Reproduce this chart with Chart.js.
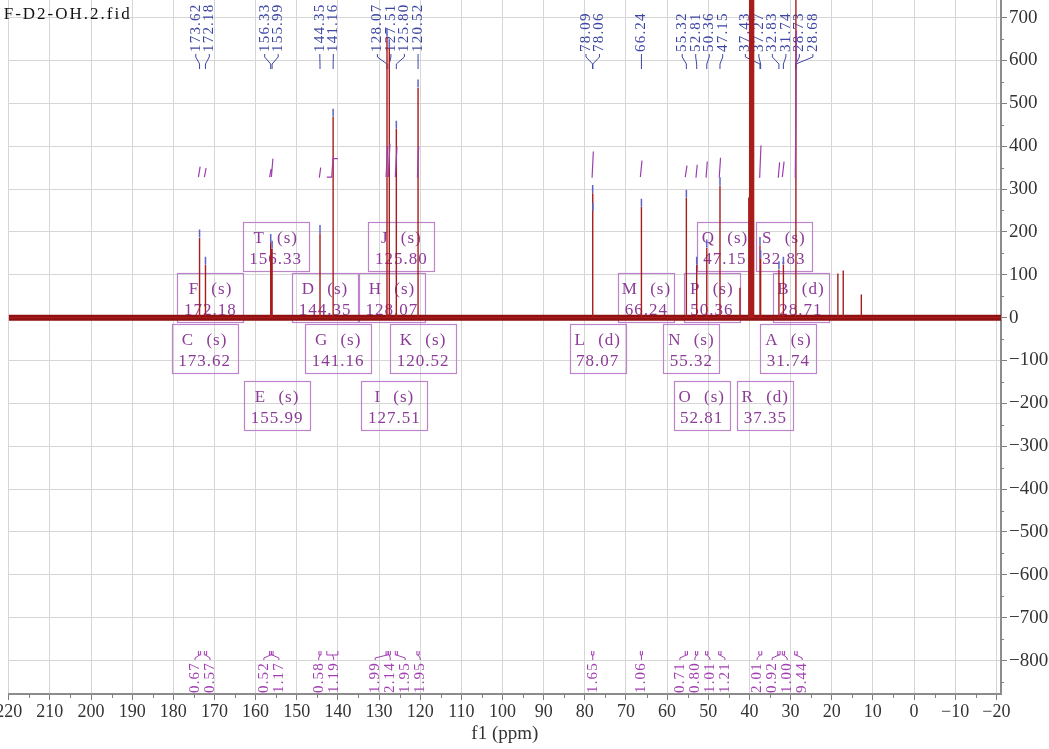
<!DOCTYPE html>
<html>
<head>
<meta charset="utf-8">
<script src="https://cdn.jsdelivr.net/npm/chart.js@4.4.1/dist/chart.umd.min.js"></script>
<style>
  html, body { margin: 0; padding: 0; background: #fff; overflow: hidden; }
  #wrap { position: absolute; left: -30px; top: -20px; }
</style>
</head>
<body>
<div id="wrap"><canvas id="spectrum" width="1079" height="769"></canvas></div>
<script>
const fileName = 'F-D2-OH.2.fid';

// picked lines (ppm) and their intensities
const peakPpm = [173.62, 172.18, 156.33, 155.99, 144.35, 141.16, 128.07, 127.51, 125.80, 120.52,
  78.09, 78.06, 66.24, 55.32, 52.81, 50.36, 47.15, 37.43, 37.27, 32.83, 31.74, 28.73, 28.68];
const peakHeight = [186, 123, 176, 160, 197, 468, 655, 630, 440, 536,
  290, 248, 258, 279, 123, 163, 308, 169, 138, 112, 123, 900, 860];

// lines that were not picked: DMSO-d6 septet and a few weak signals
const otherPpm = [42.30, 40.15, 39.94, 39.73, 39.52, 39.31, 39.10, 38.89, 18.50, 17.20, 12.80];
const otherHeight = [70, 280, 1000, 2000, 2300, 2000, 1000, 280, 103, 110, 54];

// multiplet report
const multName = ['A', 'B', 'C', 'D', 'E', 'F', 'G', 'H', 'I', 'J', 'K', 'L', 'M', 'N', 'O', 'P', 'Q', 'R', 'S', 'T'];
const multKind = ['s', 'd', 's', 's', 's', 's', 's', 's', 's', 's', 's', 'd', 's', 's', 's', 's', 's', 'd', 's', 's'];
const multShift = [31.74, 28.71, 173.62, 144.35, 155.99, 172.18, 141.16, 128.07, 127.51, 125.80,
  120.52, 78.07, 66.24, 55.32, 52.81, 50.36, 47.15, 37.35, 32.83, 156.33];

// integration regions (ppm) and normalised areas
const intFrom = [173.90, 172.45, 156.60, 156.16, 144.60, 142.70, 128.30, 127.75, 126.05, 120.80,
  78.35, 66.50, 55.60, 53.10, 50.65, 47.45, 37.70, 33.10, 32.00, 29.00];
const intTo = [173.35, 171.90, 156.16, 155.75, 144.10, 140.00, 127.80, 127.25, 125.55, 120.25,
  77.80, 66.00, 55.05, 52.55, 50.10, 46.90, 37.00, 32.55, 31.45, 28.40];
const intValue = [0.67, 0.57, 0.52, 1.17, 0.58, 1.19, 1.99, 2.14, 1.95, 1.95,
  1.65, 1.06, 0.71, 0.80, 1.01, 1.21, 2.01, 0.92, 1.00, 9.44];

const xTicks = [220, 210, 200, 190, 180, 170, 160, 150, 140, 130, 120, 110, 100, 90, 80, 70, 60, 50, 40, 30, 20, 10, 0, -10, -20];
const yTicks = [-800, -700, -600, -500, -400, -300, -200, -100, 0, 100, 200, 300, 400, 500, 600, 700];

// layout of the annotation boxes and integral marks
const X_MIN = -21.14, X_MAX = 220;
const Y_MIN = -878, Y_MAX = 741;
const boxRow = [1, 0, 1, 0, 2, 0, 1, 0, 2, -1, 1, 1, 0, 1, 2, 0, -1, 2, -1, -1];
const ROW_TOP = [-95.5, -44.5, 6.5, 63.5];
const BOX_H = 49;
const INT_CURVE_BASE = 328;
const INT_CURVE_SCALE = 36;
const INT_MARK_LEVEL = -787;

const SERIF = '"Liberation Serif", "Times New Roman", serif';
const fmt = v => (v < 0 ? '\u2212' + Math.abs(v) : String(v));

// spectrum trace: every line rises from the baseline and drops back to it
const lines = peakPpm.map((p, i) => ({ p, h: peakHeight[i] }))
  .concat(otherPpm.map((p, i) => ({ p, h: otherHeight[i] })))
  .sort((a, b) => b.p - a.p);
const traceData = [{ x: X_MAX, y: 0 }];
lines.forEach(l => traceData.push({ x: l.p, y: 0 }, { x: l.p, y: l.h }, { x: l.p, y: 0 }));
traceData.push({ x: X_MIN, y: 0 });

const tipData = peakPpm.map((p, i) => ({ x: p, y: peakHeight[i] + 10 }));

// integral curves, broken between regions
const integralData = [];
intFrom.forEach((from, i) => {
  const mid = (from + intTo[i]) / 2;
  const top = INT_CURVE_BASE + intValue[i] * INT_CURVE_SCALE;
  integralData.push(
    { x: from, y: INT_CURVE_BASE },
    { x: mid + 0.15, y: INT_CURVE_BASE },
    { x: mid - 0.15, y: top },
    { x: intTo[i], y: top },
    { x: intTo[i] - 0.01, y: null }
  );
});

// pushes overlapping labels apart, keeping each group centred on its lines
function spreadLabels(xs, gap) {
  const groups = [];
  xs.forEach((x, i) => {
    let g = { sum: x, n: 1, first: i, start: x };
    while (groups.length) {
      const prev = groups[groups.length - 1];
      if (prev.start + prev.n * gap <= g.start) break;
      groups.pop();
      const n = prev.n + g.n, sum = prev.sum + g.sum;
      g = { sum, n, first: prev.first, start: sum / n - (n - 1) * gap / 2 };
    }
    groups.push(g);
  });
  const out = [];
  groups.forEach(g => { for (let k = 0; k < g.n; k++) out[g.first + k] = g.start + k * gap; });
  return out;
}

const spectrumDecor = {
  id: 'spectrumDecor',
  beforeDatasetsDraw(chart) {
    const { ctx, chartArea } = chart;
    const xs = chart.scales.x, ys = chart.scales.y;
    const zero = ys.getPixelForValue(0);
    const top = chartArea.top;
    ctx.save();

    // multiplet boxes
    ctx.font = '17px ' + SERIF;
    ctx.letterSpacing = '1px';
    ctx.textAlign = 'center';
    ctx.textBaseline = 'middle';
    ctx.lineWidth = 1.2;
    multName.forEach((name, i) => {
      const shift = multShift[i].toFixed(2);
      const w = Math.round(ctx.measureText(shift).width + 13);
      const cx = xs.getPixelForValue(multShift[i]) + 5;
      const by = Math.round(zero + ROW_TOP[boxRow[i] + 1]) + 0.5;
      ctx.strokeStyle = '#bd84cb';
      ctx.strokeRect(Math.round(cx - w / 2) + 0.5, by, w, BOX_H);
      ctx.fillStyle = '#8c3c98';
      ctx.wordSpacing = '7px';
      ctx.fillText(name + ' (' + multKind[i] + ')', cx, by + 16);
      ctx.wordSpacing = '0px';
      ctx.fillText(shift, cx, by + 37);
    });

    // peak labels along the top
    const px = peakPpm.map(p => xs.getPixelForValue(p));
    const lx = spreadLabels(px, 13.5);
    ctx.font = '15px ' + SERIF;
    ctx.letterSpacing = '1.2px';
    ctx.strokeStyle = '#3d46a3';
    ctx.fillStyle = '#3d46a3';
    ctx.lineWidth = 1;
    ctx.textAlign = 'left';
    peakPpm.forEach((p, i) => {
      ctx.beginPath();
      ctx.moveTo(lx[i], top + 54);
      ctx.lineTo(lx[i], top + 57);
      ctx.lineTo(px[i], top + 64);
      ctx.lineTo(px[i], top + 69);
      ctx.stroke();
      ctx.save();
      ctx.translate(lx[i], top + 52);
      ctx.rotate(-Math.PI / 2);
      ctx.fillText(p.toFixed(2), 0, 0);
      ctx.restore();
    });

    // integral marks and values below the trace
    const yb = ys.getPixelForValue(INT_MARK_LEVEL);
    const cxs = intFrom.map((f, i) => xs.getPixelForValue((f + intTo[i]) / 2));
    const ilx = spreadLabels(cxs, 15);
    ctx.font = '15px ' + SERIF;
    ctx.letterSpacing = '1.2px';
    ctx.strokeStyle = '#a23fb2';
    ctx.fillStyle = '#a23fb2';
    ctx.textAlign = 'right';
    intFrom.forEach((f, i) => {
      const x1 = xs.getPixelForValue(f), x2 = xs.getPixelForValue(intTo[i]);
      ctx.beginPath();
      ctx.moveTo(x1, yb - 4); ctx.lineTo(x1, yb);
      ctx.lineTo(x2, yb); ctx.lineTo(x2, yb - 4);
      ctx.moveTo(cxs[i], yb);
      ctx.lineTo(ilx[i], yb + 3);
      ctx.lineTo(ilx[i], yb + 5);
      ctx.stroke();
      ctx.save();
      ctx.translate(ilx[i], yb + 7);
      ctx.rotate(-Math.PI / 2);
      ctx.fillText(intValue[i].toFixed(2), 0, 0);
      ctx.restore();
    });
    ctx.restore();
  },
  afterDraw(chart) {
    const { ctx, chartArea } = chart;
    const xs = chart.scales.x, ys = chart.scales.y;
    ctx.save();
    // minor ticks every 5 ppm and every 50 units
    ctx.strokeStyle = '#7f7f7f';
    ctx.lineWidth = 1;
    ctx.beginPath();
    for (let v = -15; v < X_MAX; v += 10) {
      const x = Math.round(xs.getPixelForValue(v)) + 0.5;
      ctx.moveTo(x, chartArea.bottom); ctx.lineTo(x, chartArea.bottom + 4);
    }
    for (let v = -850; v < Y_MAX; v += 100) {
      const y = Math.round(ys.getPixelForValue(v)) + 0.5;
      ctx.moveTo(chartArea.right, y); ctx.lineTo(chartArea.right + 3, y);
    }
    ctx.stroke();
    // data file name
    ctx.font = '17px ' + SERIF;
    ctx.letterSpacing = '2px';
    ctx.fillStyle = '#111';
    ctx.textAlign = 'left';
    ctx.textBaseline = 'middle';
    ctx.fillText(fileName, chartArea.left - 5, chartArea.top + 15);
    ctx.restore();
  }
};

new Chart(document.getElementById('spectrum'), {
  type: 'line',
  data: {
    datasets: [
      { label: 'baseline', data: [{ x: X_MAX, y: 0 }, { x: X_MIN, y: 0 }], borderColor: '#8e1010', borderWidth: 6, pointRadius: 0, order: 4 },
      { label: 'trace', data: traceData, borderColor: '#a81c1c', borderWidth: 1.4, pointRadius: 0, order: 3 },
      { label: 'integrals', data: integralData, borderColor: '#9b3fb0', borderWidth: 1.2, pointRadius: 0, order: 2 },
      { type: 'scatter', label: 'picks', data: tipData, showLine: false, pointStyle: 'line', rotation: 90,
        pointRadius: 4, borderColor: '#5b63c6', borderWidth: 1.5, order: 1 }
    ]
  },
  options: {
    responsive: false,
    animation: false,
    events: [],
    layout: { padding: { left: 38.7, top: 20, right: 0, bottom: 0 } },
    plugins: { legend: { display: false }, tooltip: { enabled: false } },
    scales: {
      x: {
        type: 'linear', reverse: true, min: X_MIN, max: X_MAX,
        afterBuildTicks: s => { s.ticks = xTicks.map(v => ({ value: v })); },
        afterFit: s => { s.height = 55; },
        grid: { color: '#d6d6d6', lineWidth: 1, tickColor: '#7f7f7f', tickLength: 6 },
        border: { color: '#8c8c8c', width: 2 },
        ticks: { color: '#333', font: { family: SERIF, size: 18 }, padding: 1, maxRotation: 0, autoSkip: false, callback: fmt },
        title: { display: true, text: 'f1 (ppm)', color: '#333', font: { family: SERIF, size: 19 }, padding: { top: 0, bottom: 4 } }
      },
      y: {
        type: 'linear', position: 'right', min: Y_MIN, max: Y_MAX,
        afterBuildTicks: s => { s.ticks = yTicks.map(v => ({ value: v })); },
        afterFit: s => { s.width = 48; },
        grid: { color: '#d6d6d6', lineWidth: 1, tickColor: '#7f7f7f', tickLength: 6 },
        border: { color: '#8c8c8c', width: 2 },
        ticks: { color: '#333', font: { family: SERIF, size: 19 }, padding: 2, callback: fmt }
      }
    }
  },
  plugins: [spectrumDecor]
});
</script>
</body>
</html>
